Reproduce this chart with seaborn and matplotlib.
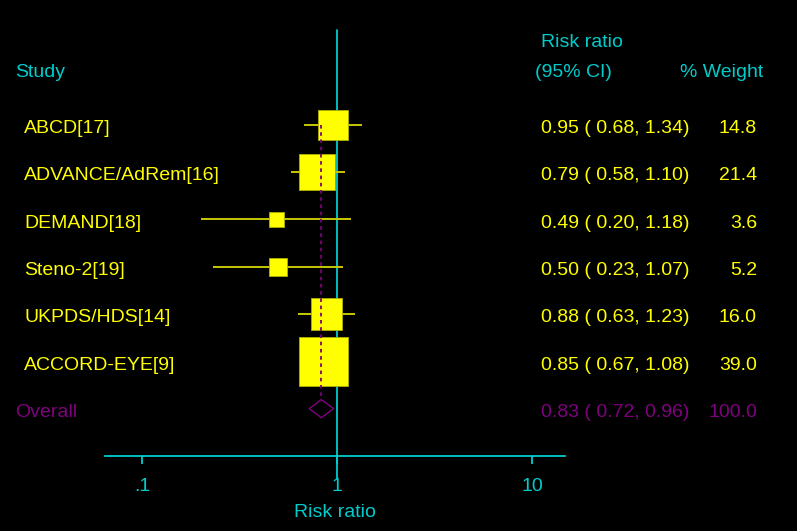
import numpy as np
import pandas as pd
import matplotlib
matplotlib.use("Agg")
import matplotlib.pyplot as plt
import matplotlib.transforms as mtransforms
import seaborn as sns

# study level results (risk ratio, 95% CI, % weight)
studies = ["ABCD[17]", "ADVANCE/AdRem[16]", "DEMAND[18]", "Steno-2[19]",
           "UKPDS/HDS[14]", "ACCORD-EYE[9]"]
rr = [0.95, 0.79, 0.49, 0.50, 0.88, 0.85]
lo = [0.68, 0.58, 0.20, 0.23, 0.63, 0.67]
hi = [1.34, 1.10, 1.18, 1.07, 1.23, 1.08]
weight = [14.8, 21.4, 3.6, 5.2, 16.0, 39.0]

overall_rr = 0.83
overall_lo = 0.72
overall_hi = 0.96
overall_weight = 100.0

xticks = [0.1, 1, 10]
xtick_labels = [".1", "1", "10"]

CYAN = "#00CCCC"
YELLOW = "#FFFF00"
OLIVE = "#C8C800"
PURPLE = "#800080"

sns.set_theme(style="dark", rc={"figure.facecolor": "black", "axes.facecolor": "black",
                                "savefig.facecolor": "black", "axes.grid": False})
plt.rcParams["font.family"] = ["Liberation Sans", "DejaVu Sans"]
FS = 14

df = pd.DataFrame({"study": studies, "rr": rr, "lo": lo, "hi": hi, "weight": weight})
df["row"] = np.arange(len(df))
overall_row = len(df)

fig = plt.figure(figsize=(7.97, 5.31), dpi=100)
ax = fig.add_axes([105 / 797, 75 / 531, 460 / 797, 426 / 531])
ax.set_xscale("log")
ax.set_xlim(0.06459, 14.76)
ax.set_ylim(7.0, -2.0)

# null line at 1
ax.axvline(1, ymin=-0.054, ymax=1, color=CYAN, lw=1.3, clip_on=False, zorder=1)

# confidence intervals
ax.hlines(df["row"], df["lo"], df["hi"], color=OLIVE, lw=1.4, zorder=2)

# weighted boxes
k = 31.5
sns.scatterplot(data=df, x="rr", y="row", size="weight", sizes=(0, k * 39.0),
                size_norm=(0, 39.0), marker="s", color=YELLOW, edgecolor="#B0B000",
                linewidth=0.6, legend=False, ax=ax, zorder=3)

# pooled estimate line and diamond
h = 0.19
ax.vlines(overall_rr, 0, overall_row - h, color=PURPLE, lw=1.3,
          linestyles=(0, (2, 2)), zorder=4)
ax.fill([overall_lo, overall_rr, overall_hi, overall_rr],
        [overall_row, overall_row - h, overall_row, overall_row + h],
        facecolor="none", edgecolor=PURPLE, lw=1.0, zorder=4)

# axis styling
for s in ["top", "left", "right"]:
    ax.spines[s].set_visible(False)
ax.spines["bottom"].set_color(CYAN)
ax.spines["bottom"].set_linewidth(1.3)
ax.set_xticks(xticks, xtick_labels)
ax.xaxis.set_minor_locator(matplotlib.ticker.NullLocator())
ax.tick_params(axis="x", colors=CYAN, labelcolor=CYAN, length=6, width=1.3,
               direction="out", pad=9.5, labelsize=FS, bottom=True)
ax.set_yticks([])
ax.set_xlabel("Risk ratio", color=CYAN, fontsize=FS, labelpad=6.5)
ax.set_ylabel("")

# text columns
tr = mtransforms.blended_transform_factory(fig.transFigure, ax.transData)
txt = dict(transform=tr, fontsize=FS, va="center", clip_on=False)
ax.text(15 / 797, -1.1, "Study", color=CYAN, **txt)
ax.text(541 / 797, -1.74, "Risk ratio", color=CYAN, **txt)
ax.text(535 / 797, -1.1, "(95% CI)", color=CYAN, **txt)
ax.text(763 / 797, -1.1, "% Weight", color=CYAN, ha="right", **txt)

for i, r in df.iterrows():
    y = r["row"] + 0.08
    ax.text(24 / 797, y, r["study"], color=YELLOW, **txt)
    ax.text(541 / 797, y, f"{r['rr']:.2f} ( {r['lo']:.2f}, {r['hi']:.2f})", color=YELLOW, **txt)
    ax.text(757 / 797, y, f"{r['weight']:.1f}", color=YELLOW, ha="right", **txt)

y = overall_row + 0.08
ax.text(15 / 797, y, "Overall", color=PURPLE, **txt)
ax.text(541 / 797, y, f"{overall_rr:.2f} ( {overall_lo:.2f}, {overall_hi:.2f})", color=PURPLE, **txt)
ax.text(757 / 797, y, f"{overall_weight:.1f}", color=PURPLE, ha="right", **txt)

fig.savefig("out.png", dpi=100)
